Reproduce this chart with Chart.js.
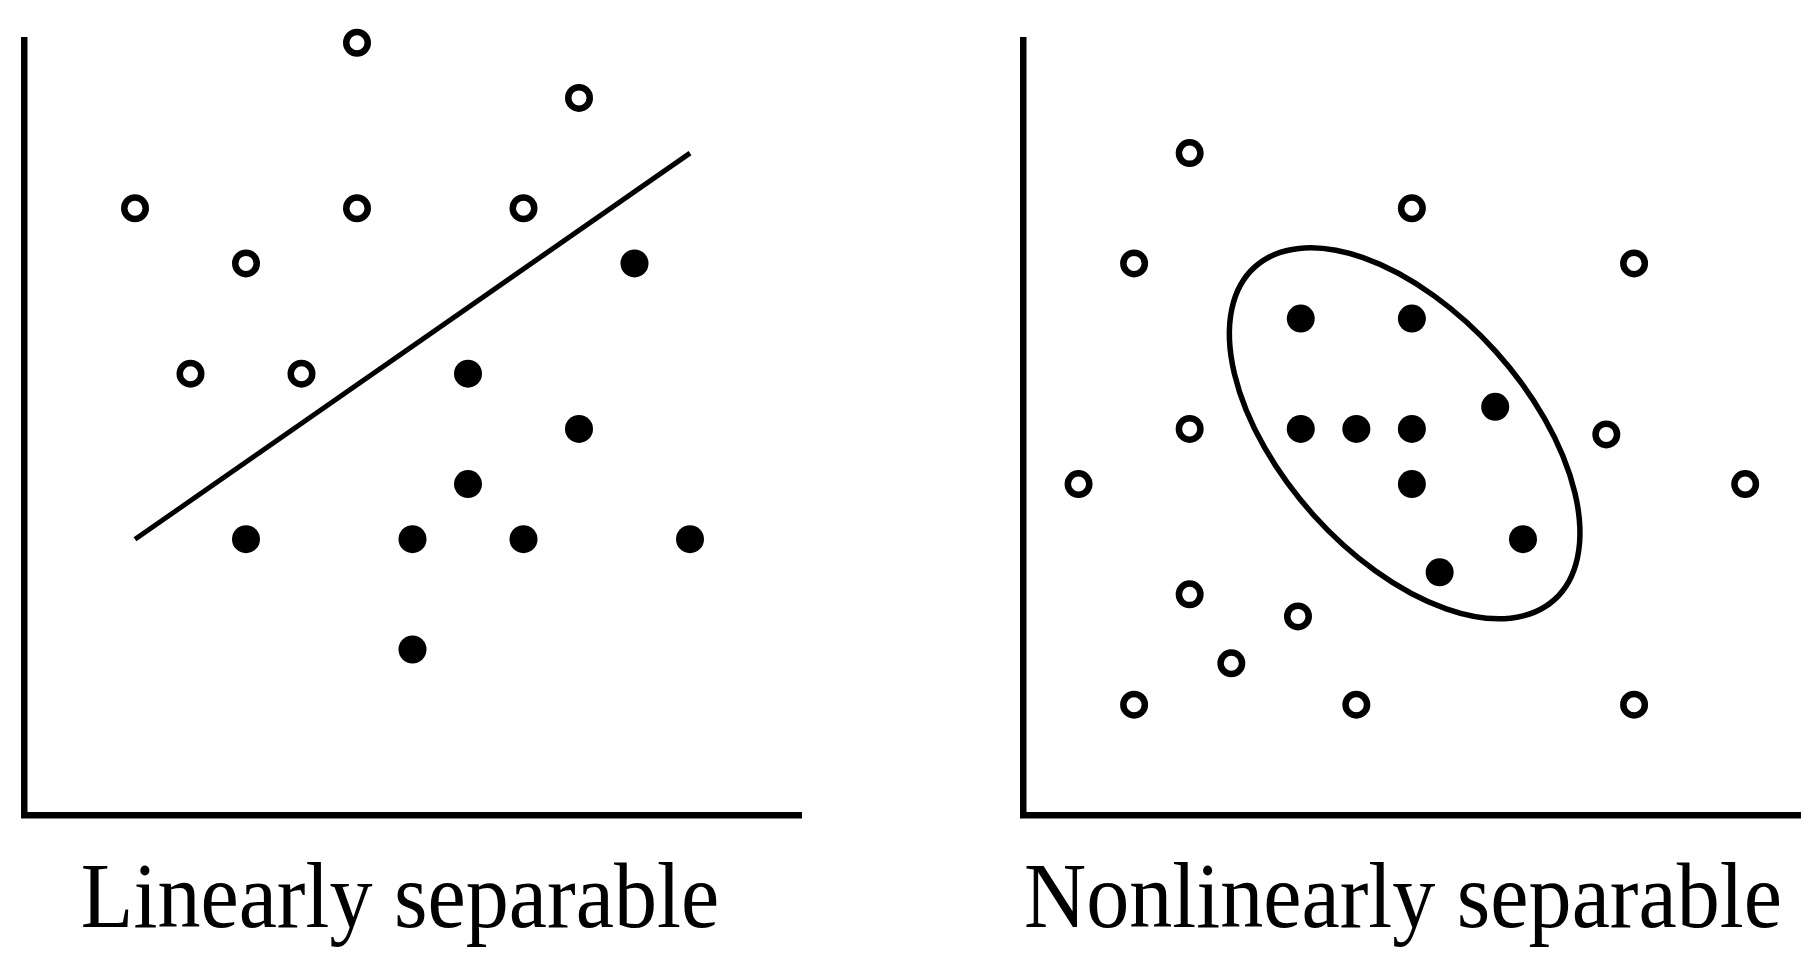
<!DOCTYPE html>
<html>
<head>
<meta charset="utf-8">
<title>Linearly vs nonlinearly separable</title>
<script src="https://cdn.jsdelivr.net/npm/chart.js@4.4.1/dist/chart.umd.min.js"></script>
<style>
  html, body { margin: 0; padding: 0; background: #fff; }
  body { width: 1818px; height: 962px; position: relative; overflow: hidden; }
  .panel { position: absolute; top: 0; width: 909px; height: 962px; }
  .caption {
    position: absolute;
    top: 848px;
    font-family: "Liberation Serif", "Times New Roman", serif;
    font-size: 94px;
    line-height: 1;
    white-space: nowrap;
    color: #000;
    transform: translateX(-50%) scaleX(0.916);
  }
</style>
</head>
<body>
  <div class="panel" style="left:0"><canvas id="linearChart"></canvas></div>
  <div class="panel" style="left:909px"><canvas id="nonlinearChart"></canvas></div>
  <div class="caption" style="left:400px">Linearly separable</div>
  <div class="caption" style="left:1403px">Nonlinearly separable</div>

<script>
  // left panel: open / filled points and the separating line
  const linearOpen = [[6, 14], [10, 13], [2, 11], [6, 11], [9, 11], [4, 10], [3, 8], [5, 8]];
  const linearFilled = [[11, 10], [8, 8], [10, 7], [8, 6], [4, 5], [7, 5], [9, 5], [12, 5], [7, 3]];
  const separatorLine = [[2, 5], [12, 12]];

  // right panel: open / filled points and the enclosing ellipse
  const nonlinearOpen = [[3, 12], [7, 11], [2, 10], [11, 10], [3, 7], [10.5, 6.9], [1, 6], [13, 6],
                         [3, 4], [4.95, 3.6], [3.75, 2.75], [2, 2], [6, 2], [11, 2]];
  const nonlinearFilled = [[5, 9], [7, 9], [5, 7], [6, 7], [7, 7], [8.5, 7.4], [7, 6], [9, 5], [7.5, 4.4]];
  const boundaryEllipse = { cx: 6.87, cy: 6.92, a: 4.03, b: 2.22, angle: -48 };

  const toXY = arr => arr.map(p => ({ x: p[0], y: p[1] }));

  const openStyle = {
    pointRadius: 10.75,
    pointHoverRadius: 10.75,
    pointBorderWidth: 6.5,
    pointBackgroundColor: '#fff',
    pointBorderColor: '#000',
    clip: false
  };
  const filledStyle = {
    pointRadius: 14,
    pointHoverRadius: 14,
    pointBorderWidth: 0,
    pointBackgroundColor: '#000',
    pointBorderColor: '#000',
    clip: false
  };

  function axisOptions(max) {
    return {
      type: 'linear',
      min: 0,
      max: max,
      ticks: { display: false },
      grid: { display: false, drawTicks: false },
      border: { display: true, color: '#000', width: 6.5 }
    };
  }

  // draws the ellipse through the chart scales
  const ellipsePlugin = {
    id: 'ellipse',
    afterDatasetsDraw(chart, args, opts) {
      if (!opts || opts.cx === undefined) return;
      const xs = chart.scales.x, ys = chart.scales.y;
      const px = xs.getPixelForValue(opts.cx);
      const py = ys.getPixelForValue(opts.cy);
      const rx = xs.getPixelForValue(opts.cx + opts.a) - px;
      const ry = ys.getPixelForValue(opts.cy) - ys.getPixelForValue(opts.cy + opts.b);
      const ctx = chart.ctx;
      ctx.save();
      ctx.beginPath();
      ctx.ellipse(px, py, rx, ry, -opts.angle * Math.PI / 180, 0, Math.PI * 2);
      ctx.lineWidth = 5.5;
      ctx.strokeStyle = '#000';
      ctx.stroke();
      ctx.restore();
    }
  };

  function makeChart(id, datasets, padding, ellipse) {
    return new Chart(document.getElementById(id), {
      type: 'scatter',
      data: { datasets: datasets },
      options: {
        responsive: true,
        maintainAspectRatio: false,
        animation: false,
        events: [],
        layout: { padding: padding },
        scales: { x: axisOptions(14.0), y: axisOptions(14.05) },
        plugins: {
          legend: { display: false },
          tooltip: { enabled: false },
          ellipse: ellipse || {}
        }
      },
      plugins: [ellipsePlugin]
    });
  }

  makeChart('linearChart', [
    Object.assign({ label: 'open', data: toXY(linearOpen) }, openStyle),
    Object.assign({ label: 'filled', data: toXY(linearFilled) }, filledStyle),
    {
      type: 'line',
      label: 'separator',
      data: toXY(separatorLine),
      borderColor: '#000',
      borderWidth: 5,
      pointRadius: 0,
      fill: false,
      clip: false
    }
  ], { left: 24, top: 40, right: 108, bottom: 147 });

  makeChart('nonlinearChart', [
    Object.assign({ label: 'open', data: toXY(nonlinearOpen) }, openStyle),
    Object.assign({ label: 'filled', data: toXY(nonlinearFilled) }, filledStyle)
  ], { left: 114, top: 40, right: 17, bottom: 147 }, boundaryEllipse);
</script>
</body>
</html>
